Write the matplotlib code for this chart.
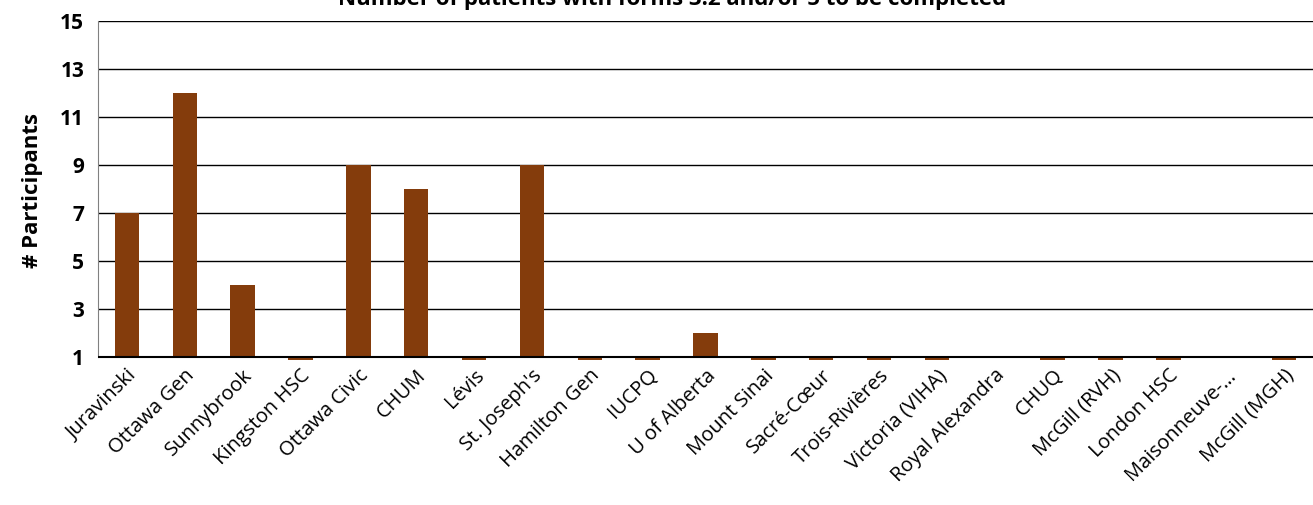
import numpy as np
import matplotlib.pyplot as plt

plt.rcParams['font.family'] = ['Open Sans', 'DejaVu Sans']

sites = ['Juravinski', 'Ottawa Gen', 'Sunnybrook', 'Kingston HSC', 'Ottawa Civic',
         'CHUM', 'Lévis', "St. Joseph's", 'Hamilton Gen', 'IUCPQ', 'U of Alberta',
         'Mount Sinai', 'Sacré-Cœur', 'Trois-Rivières', 'Victoria (VIHA)',
         'Royal Alexandra', 'CHUQ', 'McGill (RVH)', 'London HSC', 'Maisonneuve-…',
         'McGill (MGH)']
# nan = no value for that site
participants = [7, 12, 4, 0, 9, 8, 0, 9, 0, 0, 2, 0, 0, 0, 0,
                np.nan, 0, 0, 0, np.nan, 0]
yticks = [1, 3, 5, 7, 9, 11, 13, 15]

fig = plt.figure(figsize=(13.13, 5.05), dpi=100)
ax = fig.add_axes([98 / 1313, (505 - 360) / 505, 1215 / 1313, 339 / 505])

x = np.arange(len(sites))
vals = np.array(participants, dtype=float)
# excel style: bars start from the axis crossing at 1
ax.bar(x, vals - 1, bottom=1, width=0.42, color='#843C0C', zorder=3)

ax.set_xlim(-0.5, len(sites) - 0.5)
ax.set_ylim(0.875, 15)
ax.set_yticks(yticks)
ax.set_yticklabels([str(t) for t in yticks], fontsize=15, fontweight='bold')
ax.tick_params(axis='y', length=0, pad=10)
ax.tick_params(axis='x', length=0, pad=4)
ax.set_xticks(x)
ax.set_xticklabels(sites, rotation=45, ha='right', rotation_mode='anchor', fontsize=14.5)

for t in yticks[1:]:
    ax.axhline(t, color='black', lw=1, zorder=1)
ax.axhline(1, color='black', lw=1.5, zorder=4)

for s in ['top', 'right', 'bottom']:
    ax.spines[s].set_visible(False)
ax.spines['left'].set_color('#808080')
ax.spines['left'].set_bounds(1, 15)

ax.set_ylabel('# Participants', fontsize=16, fontweight='bold', labelpad=12)
fig.text(672 / 1313, 1.0, 'Number of patients with forms 3.2 and/or 5 to be completed',
         ha='center', va='center', fontsize=16, fontweight='bold')

fig.savefig('out.png', dpi=100)
